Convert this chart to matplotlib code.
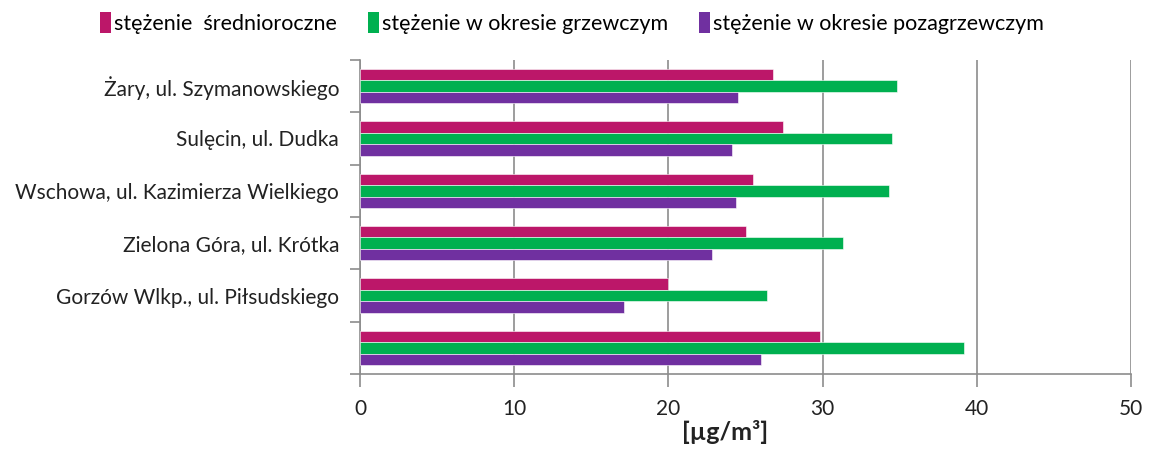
import matplotlib
matplotlib.use("Agg")
import matplotlib.pyplot as plt
from matplotlib.patches import Patch
import numpy as np

plt.rcParams['font.family'] = ['Lato', 'DejaVu Sans']

# Monitoring stations, listed top to bottom
stations = [
    "Żary, ul. Szymanowskiego",
    "Sulęcin, ul. Dudka",
    "Wschowa, ul. Kazimierza Wielkiego",
    "Zielona Góra, ul. Krótka",
    "Gorzów Wlkp., ul. Piłsudskiego",
    "",
]
series_names = [
    "stężenie  średnioroczne",
    "stężenie w okresie grzewczym",
    "stężenie w okresie pozagrzewczym",
]
annual = [26.8, 27.4, 25.5, 25.0, 20.0, 29.8]
heating = [34.8, 34.5, 34.3, 31.3, 26.4, 39.2]
non_heating = [24.5, 24.1, 24.4, 22.8, 17.1, 26.0]
colors = ["#BC1769", "#00B050", "#7030A0"]
x_ticks = [0, 10, 20, 30, 40, 50]
x_label = "[µg/m³]"

fig = plt.figure(figsize=(11.53, 4.50), dpi=100)
ax = fig.add_axes([360 / 1153, 76 / 450, 771 / 1153, 314 / 450])

n = len(stations)
centers = np.arange(n)[::-1] + 0.5  # first station at the top
bh = 0.217
for i, (vals, col) in enumerate(zip([annual, heating, non_heating], colors)):
    ax.barh(centers + (1 - i) * bh, vals, height=bh, color=col,
            edgecolor="white", linewidth=0.4, zorder=3, label=series_names[i])

ax.set_xlim(0, 50)
ax.set_ylim(0, n)
ax.set_xticks(x_ticks)
ax.set_xticklabels([str(t) for t in x_ticks], fontsize=15, color="#222222")
ax.tick_params(axis="x", length=9, width=1.2, color="#8c8c8c", pad=9)
ax.grid(axis="x", color="#8c8c8c", linewidth=1.2, zorder=0)

# category labels at band centres, boundary ticks on the minor locator
ax.set_yticks(centers)
ax.set_yticklabels(stations, fontsize=15, color="#222222")
ax.tick_params(axis="y", which="major", length=0, pad=15)
ax.set_yticks(np.arange(n + 1), minor=True)
ax.tick_params(axis="y", which="minor", length=7, width=1.2, color="#8c8c8c")

for side in ["top", "right"]:
    ax.spines[side].set_visible(False)
for side in ["left", "bottom"]:
    ax.spines[side].set_color("#8c8c8c")
    ax.spines[side].set_linewidth(1.2)

ax.set_xlabel(x_label, fontsize=18, fontweight="bold", color="#222222", labelpad=0)
ax.xaxis.set_label_coords((725 - 360) / 771, -0.145)

handles = [Patch(facecolor=c, edgecolor="none") for c in colors]
fig.legend(handles, series_names, loc="center", bbox_to_anchor=(572 / 1153, 1 - 23 / 450),
           ncol=3, frameon=False, fontsize=15.5, handlelength=0.5, handleheight=1.15,
           handletextpad=0.15, columnspacing=1.45)

fig.savefig("out.png", dpi=100)
